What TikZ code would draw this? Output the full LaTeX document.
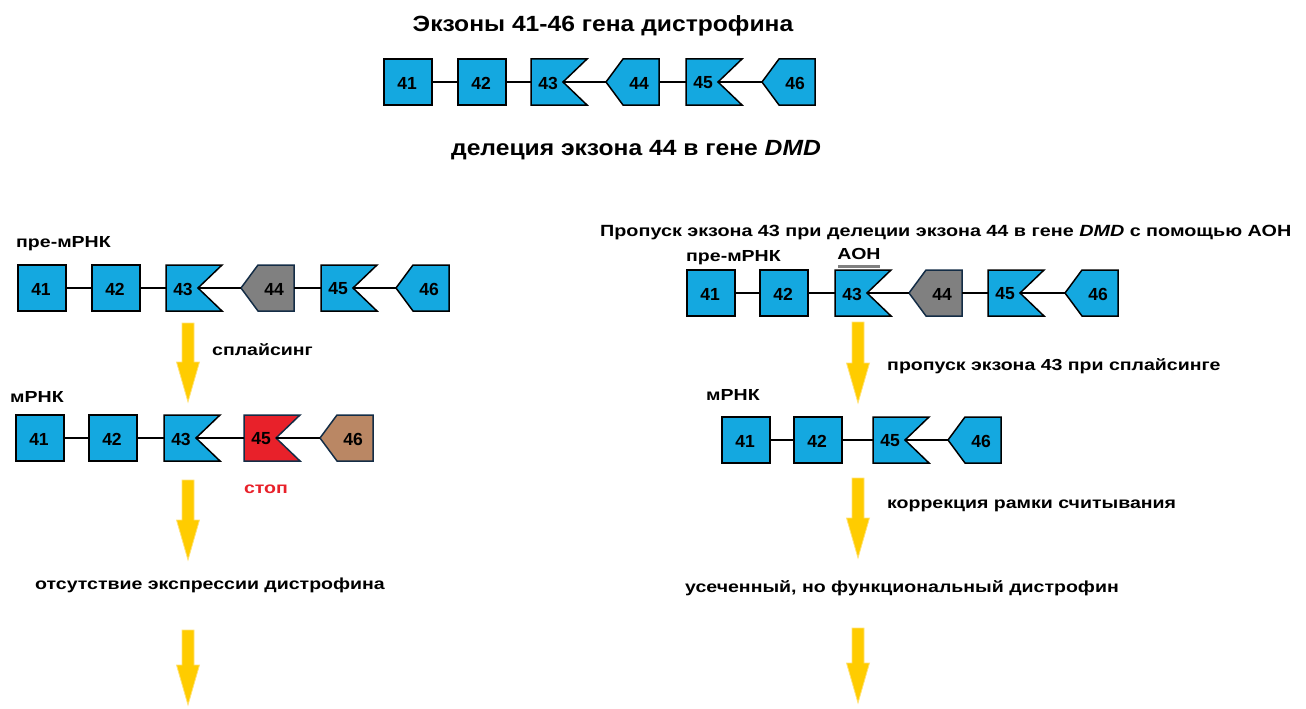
\documentclass[tikz,border=0pt]{standalone}
\usepackage{fontspec}
\setmainfont{Liberation Sans}
\newfontfamily\widefont[FakeStretch=1.22]{Liberation Sans}
\newfontfamily\titlefont[FakeStretch=1.12]{Liberation Sans}
\definecolor{exblue}{RGB}{20,168,224}
\definecolor{exgray}{RGB}{128,128,128}
\definecolor{exred}{RGB}{232,33,42}
\definecolor{exbrown}{RGB}{186,135,100}
\definecolor{exedge}{RGB}{20,45,70}
\definecolor{arrowyellow}{RGB}{255,204,0}
\definecolor{arrowedge}{RGB}{255,226,120}
\tikzset{
  exonline/.style={draw=black, line width=1.5pt, line join=miter},
  exonedge/.style={draw=exedge, line width=1.5pt, line join=miter},
  exontext/.style={font=\bfseries\fontsize{17.5}{18}\selectfont, inner sep=0pt},
  link/.style={draw=black, line width=1.3pt},
  lbl/.style={font=\widefont\bfseries\fontsize{16}{17}\selectfont, inner sep=0pt},
  ttl/.style={font=\titlefont\bfseries\fontsize{22}{24}\selectfont, inner sep=0pt},
  yarrow/.style={fill=arrowyellow, draw=arrowedge, line width=0.8pt}
}
% square exon: name, left x, mid y, label, fill, edge style
\newcommand\exsq[6]{%
  \draw[#6, fill=#5] (#2,#3-23) rectangle (#2+48,#3+23);
  \node[exontext] (#1) at (#2+23,#3+1) {#4};
  \coordinate (#1-in) at (#2,#3);
  \coordinate (#1-out) at (#2+48,#3);}
% notched exon
\newcommand\exnotch[6]{%
  \draw[#6, fill=#5] (#2,#3-23) -- ++(56,0) -- ++(-24,23) -- ++(24,23) -- ++(-56,0) -- cycle;
  \node[exontext] (#1) at (#2+17,#3+1) {#4};
  \coordinate (#1-in) at (#2,#3);
  \coordinate (#1-out) at (#2+32,#3);}
% pointed exon
\newcommand\expoint[6]{%
  \draw[#6, fill=#5] (#2,#3) -- (#2+17,#3-23) -- (#2+53,#3-23) -- (#2+53,#3+23) -- (#2+17,#3+23) -- cycle;
  \node[exontext] (#1) at (#2+33,#3+1) {#4};
  \coordinate (#1-in) at (#2,#3);
  \coordinate (#1-out) at (#2+53,#3);}
% yellow block arrow: centre x, top y, tip y
\newcommand\blockarrow[3]{%
  \draw[yarrow] (#1-6,#2) -- (#1+6,#2) -- (#1+6,#3-40) -- (#1+11.5,#3-40) -- (#1,#3) -- (#1-11.5,#3-40) -- (#1-6,#3-40) -- cycle;}
\begin{document}
\begin{tikzpicture}[x=1pt,y=-1pt]
\useasboundingbox (0,0) rectangle (1306,709);

% ---- titles
\node[ttl] (title) at (603,26) {Экзоны 41-46 гена дистрофина};
\node[ttl] (del) at (636,150) {делеция экзона 44 в гене \textit{DMD}};
\node[font=\widefont\bfseries\fontsize{16.2}{17}\selectfont, inner sep=0pt, anchor=west] (skiphead) at (600,233) {Пропуск экзона 43 при делеции экзона 44 в гене \textit{DMD} с помощью АОН};

% ---- top row
\exsq{t41}{384}{82}{41}{exblue}{exonline}
\exsq{t42}{458}{82}{42}{exblue}{exonline}
\exnotch{t43}{531}{82}{43}{exblue}{exonline}
\expoint{t44}{606}{82}{44}{exblue}{exonline}
\exnotch{t45}{686}{82}{45}{exblue}{exonline}
\expoint{t46}{762}{82}{46}{exblue}{exonline}
\draw[link] (t41-out) -- (t42-in);
\draw[link] (t42-out) -- (t43-in);
\draw[link] (t43-out) -- (t44-in);
\draw[link] (t44-out) -- (t45-in);
\draw[link] (t45-out) -- (t46-in);

% ---- left pre-mRNA
\node[lbl, anchor=west] (lpre) at (16,244) {пре-мРНК};
\exsq{a41}{18}{288}{41}{exblue}{exonline}
\exsq{a42}{92}{288}{42}{exblue}{exonline}
\exnotch{a43}{166}{288}{43}{exblue}{exonline}
\expoint{a44}{241}{288}{44}{exgray}{exonedge}
\exnotch{a45}{321}{288}{45}{exblue}{exonline}
\expoint{a46}{396}{288}{46}{exblue}{exonline}
\draw[link] (a41-out) -- (a42-in);
\draw[link] (a42-out) -- (a43-in);
\draw[link] (a43-out) -- (a44-in);
\draw[link] (a44-out) -- (a45-in);
\draw[link] (a45-out) -- (a46-in);

\blockarrow{188}{323}{402}
\node[lbl, anchor=west] (splice) at (212,350) {сплайсинг};

% ---- left mRNA
\node[lbl, anchor=west] (lm) at (10,397) {мРНК};
\exsq{b41}{16}{438}{41}{exblue}{exonline}
\exsq{b42}{89}{438}{42}{exblue}{exonline}
\exnotch{b43}{164}{438}{43}{exblue}{exonline}
\exnotch{b45}{244}{438}{45}{exred}{exonedge}
\expoint{b46}{320}{438}{46}{exbrown}{exonedge}
\draw[link] (b41-out) -- (b42-in);
\draw[link] (b42-out) -- (b43-in);
\draw[link] (b43-out) -- (b45-in);
\draw[link] (b45-out) -- (b46-in);
\node[lbl, text=exred] (stop) at (266,489) {стоп};

\blockarrow{188}{480}{560}
\node[lbl] (noexpr) at (210,585) {отсутствие экспрессии дистрофина};
\blockarrow{188}{630}{705}

% ---- right pre-mRNA
\node[lbl, anchor=west] (rpre) at (686,258) {пре-мРНК};
\node[lbl] (aon) at (859,254) {АОН};
\draw[draw=exgray, line width=3pt] (838,266) -- (880,266);
\exsq{c41}{687}{293}{41}{exblue}{exonline}
\exsq{c42}{760}{293}{42}{exblue}{exonline}
\exnotch{c43}{835}{293}{43}{exblue}{exonline}
\expoint{c44}{909}{293}{44}{exgray}{exonedge}
\exnotch{c45}{988}{293}{45}{exblue}{exonline}
\expoint{c46}{1065}{293}{46}{exblue}{exonline}
\draw[link] (c41-out) -- (c42-in);
\draw[link] (c42-out) -- (c43-in);
\draw[link] (c43-out) -- (c44-in);
\draw[link] (c44-out) -- (c45-in);
\draw[link] (c45-out) -- (c46-in);

\blockarrow{858}{322}{403}
\node[lbl, anchor=west] (skip) at (887,366) {пропуск экзона 43 при сплайсинге};

% ---- right mRNA
\node[lbl, anchor=west] (rm) at (706,395) {мРНК};
\exsq{d41}{722}{440}{41}{exblue}{exonline}
\exsq{d42}{794}{440}{42}{exblue}{exonline}
\exnotch{d45}{873}{440}{45}{exblue}{exonline}
\expoint{d46}{948}{440}{46}{exblue}{exonline}
\draw[link] (d41-out) -- (d42-in);
\draw[link] (d42-out) -- (d45-in);
\draw[link] (d45-out) -- (d46-in);

\blockarrow{858}{478}{558}
\node[lbl, anchor=west] (corr) at (887,506) {коррекция рамки считывания};
\node[lbl] (trunc) at (902,588) {усеченный, но функциональный дистрофин};
\blockarrow{858}{628}{703}
\end{tikzpicture}
\end{document}
